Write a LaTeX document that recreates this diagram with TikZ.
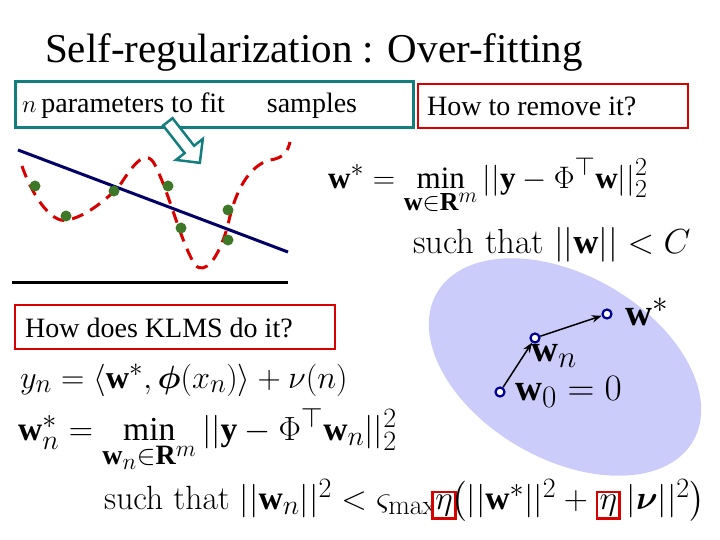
\documentclass[tikz,border=0pt]{standalone}
\usepackage{amsmath,amssymb,bm}
\usepackage{graphicx}
\usepackage{fontspec}
\setmainfont{Liberation Serif}
\newfontfamily\lmr{Latin Modern Roman}
\usetikzlibrary{arrows.meta,shapes.arrows}
\definecolor{teal2}{RGB}{20,125,125}
\definecolor{dotg}{RGB}{60,120,40}
\definecolor{lav}{RGB}{204,204,250}
\newcommand{\rb}[1]{{\setlength{\fboxrule}{2pt}\setlength{\fboxsep}{1pt}\fcolorbox{red!85!black}{white}{$#1$}}}
\begin{document}
\begin{tikzpicture}[x=1pt,y=-1pt,
 txt/.style={inner sep=0,anchor=west,font=\fontsize{28}{32}\selectfont},
 eq/.style={inner sep=0,anchor=west,font=\fontsize{24.88}{30}\selectfont\lmr},
 dot/.style={circle,fill=dotg,inner sep=0,minimum size=11pt},
 pt/.style={circle,draw=blue!60!black,line width=2.2pt,fill=white,inner sep=0,minimum size=9pt},
 rbox/.style={draw=red!85!black,line width=2.5pt}]
\useasboundingbox (0,0) rectangle (720,540);
\node[inner sep=0,anchor=west,font=\fontsize{41}{48}\selectfont] (title) at (45,52) {Self-regularization : Over-fitting};
\fill[lav] (565,367) ellipse[x radius=148,y radius=92,rotate=-30];
\draw[teal2,line width=3pt] (15,82) rectangle (413,128);
\node[txt] (t1) at (22,106) {$n$\,parameters to fit\quad\ \ samples};
\draw[rbox] (418,84) rectangle (688,128);
\node[txt] (t2) at (427,106) {How to remove it?};
\node[single arrow,draw=teal2,line width=2.5pt,fill=white,minimum height=52pt,minimum width=34pt,single arrow head extend=6pt,rotate=-52,inner sep=2pt] (ha) at (182,140) {};
\draw[red!85!black,line width=3pt,dash pattern=on 12pt off 8pt] (22,166) .. controls (30,190) and (50,225) .. (68,220) .. controls (90,215) and (110,195) .. (118,188) .. controls (130,170) and (145,145) .. (155,165) .. controls (170,195) and (180,240) .. (195,265) .. controls (205,275) and (218,260) .. (228,225) .. controls (235,190) and (250,165) .. (270,160) .. controls (285,158) and (288,150) .. (290,142);
\draw[blue!40!black,line width=3pt] (18,150) coordinate (la) -- (288,252) coordinate (lb);
\draw[black,line width=3pt] (12,282) coordinate (ba) -- (288,282) coordinate (bb);
\foreach \p [count=\i] in {(35,186),(66,216),(114,191),(168,186),(181,228),(228,210),(228,240)} \node[dot] (d\i) at \p {};
\node[eq] (e1) at (328,186) {\scalebox{1.25}{$\mathbf{w}^* = \displaystyle\min_{\mathbf{w}\in\mathbf{R}^m} ||\mathbf{y}-\Phi^\top\mathbf{w}||_2^2$}};
\node[eq] (e2) at (413,245) {\scalebox{1.4}{such that $||\mathbf{w}|| < C$}};
\draw[rbox] (15,305) rectangle (335,349);
\node[txt] (t3) at (25,328) {How does KLMS do it?};
\node[pt] (w0) at (500,392) {};
\node[pt] (wn) at (535,338) {};
\node[pt] (ws) at (607,314) {};
\draw[-{Stealth[length=10pt]},line width=1.5pt] (w0) -- (wn);
\draw[-{Stealth[length=10pt]},line width=1.5pt] (wn) -- (ws);
\node[eq] at (625,312) (lws) {\scalebox{1.5}{$\mathbf{w}^*$}};
\node[eq] at (531,356) (lwn) {\scalebox{1.5}{$\mathbf{w}_n$}};
\node[eq] at (515,392) (lw0) {\scalebox{1.5}{$\mathbf{w}_0=0$}};
\node[eq] (e3) at (20,380) {\scalebox{1.3}{$y_n = \langle \mathbf{w}^*, \bm{\phi}(x_n)\rangle + \nu(n)$}};
\node[eq] (e4) at (18,440) {\scalebox{1.35}{$\mathbf{w}_n^* = \displaystyle\min_{\mathbf{w}_n\in\mathbf{R}^m} ||\mathbf{y}-\Phi^\top\mathbf{w}_n||_2^2$}};
\node[eq] (e5) at (104,500) {\scalebox{1.35}{such that $||\mathbf{w}_n||^2 < \varsigma_{\text{\lmr max}}\!\rb{\eta}\!\big(||\mathbf{w}^*||^2 + \rb{\eta}\,|\bm{\nu}||^2\big)$}};
\end{tikzpicture}
\end{document}
